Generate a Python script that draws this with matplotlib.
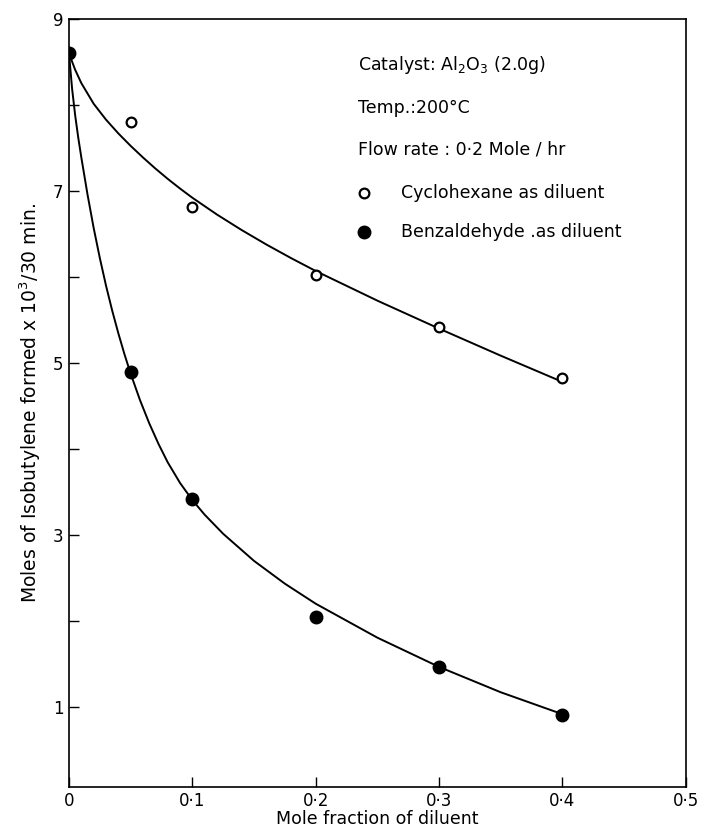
import matplotlib
matplotlib.use("Agg")
import matplotlib.pyplot as plt

# measured points
x_pts = [0.0, 0.05, 0.1, 0.2, 0.3, 0.4]
cyclohexane = [8.6, 7.8, 6.82, 6.02, 5.42, 4.82]
benzaldehyde = [8.6, 4.9, 3.42, 2.05, 1.46, 0.9]

# smooth curves
x_cyc_curve = [0.0, 0.005, 0.01, 0.02, 0.03, 0.04, 0.05, 0.06, 0.07, 0.08, 0.09, 0.1,
               0.12, 0.14, 0.16, 0.18, 0.2, 0.25, 0.3, 0.35, 0.4]
cyc_curve = [8.6, 8.41, 8.255, 8.015, 7.83, 7.67, 7.525, 7.39, 7.262, 7.142, 7.029, 6.922,
             6.726, 6.546, 6.378, 6.22, 6.07, 5.725, 5.40, 5.085, 4.78]
x_benz_curve = [0.0, 0.0025, 0.005, 0.0075, 0.01, 0.015, 0.02, 0.025, 0.03, 0.035, 0.04,
                0.045, 0.05, 0.0575, 0.065, 0.0725, 0.08, 0.09, 0.1, 0.11, 0.125, 0.15,
                0.175, 0.2, 0.25, 0.3, 0.35, 0.4]
benz_curve = [8.6, 8.19, 7.88, 7.62, 7.39, 6.96, 6.57, 6.22, 5.9, 5.61, 5.345,
              5.1, 4.875, 4.57, 4.3, 4.06, 3.845, 3.605, 3.405, 3.235, 3.013, 2.698,
              2.433, 2.2, 1.805, 1.465, 1.17, 0.915]

xticks = [0.0, 0.1, 0.2, 0.3, 0.4, 0.5]
xtick_labels = ["0", "0·1", "0·2", "0·3", "0·4", "0·5"]
yticks = [1, 3, 5, 7, 9]

fig = plt.figure(figsize=(7.07, 8.30), dpi=100)
ax = fig.add_axes([0.0976, 0.052, 0.8724, 0.925])

ax.plot(x_cyc_curve, cyc_curve, color="black", linewidth=1.4)
ax.plot(x_benz_curve, benz_curve, color="black", linewidth=1.4)
ax.plot(x_pts, cyclohexane, linestyle="none", marker="o", markersize=7,
        markerfacecolor="white", markeredgecolor="black", markeredgewidth=1.6, zorder=3)
ax.plot(x_pts, benzaldehyde, linestyle="none", marker="o", markersize=9,
        color="black", zorder=4)

ax.set_xlim(0, 0.5)
ax.set_ylim(0.07, 9)
ax.set_xticks(xticks)
ax.set_xticklabels(xtick_labels)
ax.set_yticks(yticks)
ax.set_yticks([2, 4, 6, 8], minor=True)
ax.tick_params(axis="both", direction="in", length=7, width=1, labelsize=12, pad=4)
ax.tick_params(axis="y", which="minor", direction="in", length=7, width=1)
for s in ax.spines.values():
    s.set_linewidth(1.2)

ax.set_xlabel("Mole fraction of diluent", fontsize=12.5, labelpad=0)
ax.set_ylabel("Moles of Isobutylene formed x 10$^3$/30 min.", fontsize=13.5, labelpad=7)

fs = 12.5
ax.text(0.234, 8.47, "Catalyst: Al$_2$O$_3$ (2.0g)", fontsize=fs, va="center")
ax.text(0.234, 7.97, "Temp.:200°C", fontsize=fs, va="center")
ax.text(0.234, 7.48, "Flow rate : 0·2 Mole / hr", fontsize=fs, va="center")
ax.plot([0.2395], [6.98], marker="o", markersize=7, markerfacecolor="white",
        markeredgecolor="black", markeredgewidth=1.6, linestyle="none")
ax.text(0.269, 6.98, "Cyclohexane as diluent", fontsize=fs, va="center")
ax.plot([0.2395], [6.52], marker="o", markersize=9, color="black", linestyle="none")
ax.text(0.269, 6.52, "Benzaldehyde .as diluent", fontsize=fs, va="center")

fig.savefig("out.png", dpi=100)
